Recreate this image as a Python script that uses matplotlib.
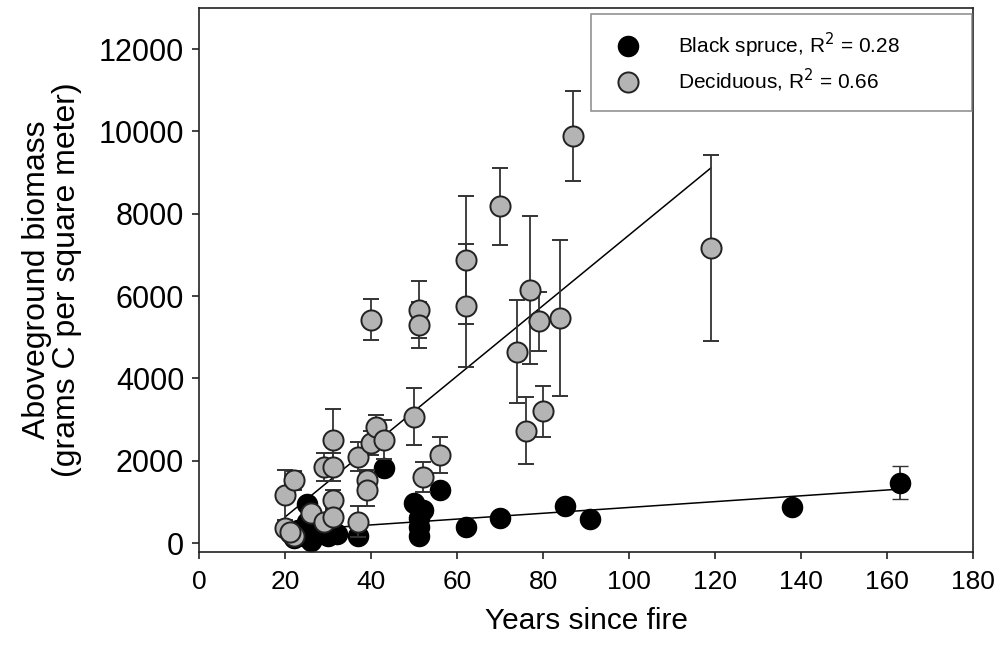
#!/usr/bin/env python3

import numpy as np
import matplotlib
matplotlib.use("Agg")
import matplotlib.pyplot as plt
from matplotlib.lines import Line2D

plt.rcParams['font.family'] = ['Liberation Sans', 'DejaVu Sans']

# black spruce stands (years since fire, g C / m2)
spruce_years = [21, 22, 23, 24, 25, 25, 26, 26, 27, 28, 29, 30, 31, 32,
                37, 43, 50, 51, 51, 51, 52, 56, 62, 70, 85, 91, 138, 163]
spruce_biomass = [250, 120, 320, 180, 960, 500, 40, 200, 350, 230, 300, 160,
                  280, 230, 160, 1820, 980, 400, 160, 600, 800, 1280, 400,
                  600, 890, 580, 880, 1470]
spruce_err = [0, 0, 0, 0, 0, 0, 0, 0, 0, 0, 0, 0, 0, 0,
              0, 0, 0, 0, 0, 0, 0, 0, 0, 0, 0, 0, 0, 390]

# deciduous stands
decid_years = [20, 22, 20, 22, 21, 26, 29, 29, 31, 31, 31, 31, 37, 37, 39,
               39, 40, 40, 41, 43, 50, 51, 51, 52, 56, 62, 62, 70, 74, 76,
               77, 79, 80, 84, 87, 119]
decid_biomass = [1170, 1520, 360, 160, 260, 720, 520, 1850, 1850, 2510, 1050,
                 640, 2100, 520, 1530, 1300, 2430, 5430, 2830, 2510, 3070,
                 5670, 5300, 1610, 2140, 6880, 5770, 8180, 4650, 2730, 6140,
                 5390, 3200, 5470, 9890, 7170]
decid_err = [600, 240, 0, 0, 0, 150, 150, 340, 340, 750, 250, 200, 360, 370,
             240, 400, 300, 490, 280, 480, 700, 690, 560, 370, 430, 1560, 1500,
             940, 1250, 810, 1800, 720, 620, 1900, 1090, 2260]

# regression lines (end points)
spruce_fit_x = [20, 163]
spruce_fit_y = [300, 1310]
decid_fit_x = [20, 119]
decid_fit_y = [640, 9110]

labels = ['Black spruce, R$^2$ = 0.28', 'Deciduous, R$^2$ = 0.66']


def main():
    fig = plt.figure(figsize=(10.05, 6.62), dpi=100)
    ax = fig.add_axes([0.1985, 0.166, 0.7695, 0.822])

    ax.plot(spruce_fit_x, spruce_fit_y, color='black', lw=1.1, zorder=1)
    ax.plot(decid_fit_x, decid_fit_y, color='black', lw=1.1, zorder=1)

    ax.errorbar(spruce_years, spruce_biomass, yerr=spruce_err, fmt='o',
                ms=14.5, mfc='black', mec='black', mew=1.0,
                ecolor='#333333', elinewidth=1.3, capsize=6, capthick=1.3,
                zorder=2)
    ax.errorbar(decid_years, decid_biomass, yerr=decid_err, fmt='o',
                ms=14.5, mfc='#b4b4b4', mec='#222222', mew=1.4,
                ecolor='#333333', elinewidth=1.3, capsize=6, capthick=1.3,
                zorder=3)

    ax.set_xlim(0, 180)
    ax.set_ylim(-220, 13000)
    ax.set_xticks(np.arange(0, 181, 20))
    ax.set_yticks(np.arange(0, 12001, 2000))
    ax.tick_params(direction='out', length=5, width=1.2, color='#222222')
    ax.tick_params(axis='x', labelsize=19, pad=8)
    ax.tick_params(axis='y', labelsize=22, pad=6)
    for sp in ax.spines.values():
        sp.set_linewidth(1.2)
        sp.set_color('#222222')

    ax.set_xlabel('Years since fire', fontsize=21.5, labelpad=9)
    ax.set_ylabel('Aboveground biomass\n(grams C per square meter)',
                  fontsize=23, labelpad=12, linespacing=1.0)

    handles = [
        Line2D([], [], ls='none', marker='o', ms=14.5, mfc='black', mec='black'),
        Line2D([], [], ls='none', marker='o', ms=14.5, mfc='#b4b4b4',
               mec='#222222', mew=1.4),
    ]
    leg = ax.legend(handles, labels, loc='upper left', mode='expand',
                    bbox_to_anchor=(0.506, 0.5, 0.493, 0.489), fontsize=15,
                    frameon=True, fancybox=False, borderpad=0.8,
                    labelspacing=0.35, handletextpad=1.4, borderaxespad=0,
                    handlelength=2.0)
    leg.get_frame().set_edgecolor('#777777')
    leg.get_frame().set_linewidth(1.2)

    fig.savefig('out.png', dpi=100)


if __name__ == "__main__":
    main()
